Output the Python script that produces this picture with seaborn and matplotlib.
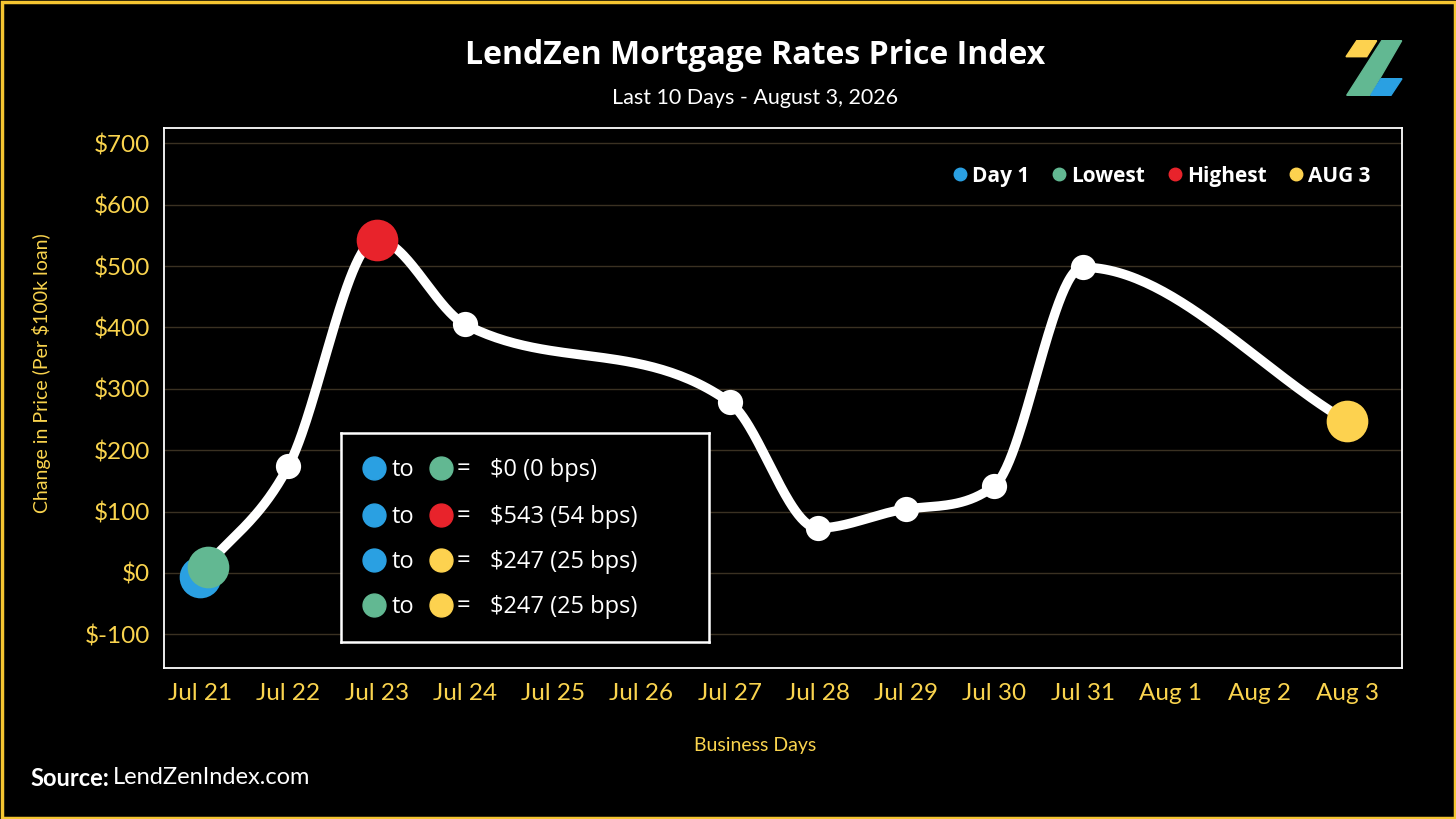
import numpy as np
import pandas as pd
import matplotlib
matplotlib.use("Agg")
import matplotlib.pyplot as plt
import seaborn as sns
from matplotlib.lines import Line2D
from matplotlib.patches import Polygon, Rectangle
from matplotlib.transforms import offset_copy

# ---------------- data ----------------
dates = ["Jul 21", "Jul 22", "Jul 23", "Jul 24", "Jul 25", "Jul 26", "Jul 27",
         "Jul 28", "Jul 29", "Jul 30", "Jul 31", "Aug 1", "Aug 2", "Aug 3"]
point_days = ["Jul 21", "Jul 22", "Jul 23", "Jul 24", "Jul 27", "Jul 28",
              "Jul 29", "Jul 30", "Jul 31", "Aug 3"]
point_values = [0, 174, 543, 405, 278, 73, 104, 142, 498, 247]

highlight_labels = ["Day 1", "Lowest", "Highest", "AUG 3"]
highlight_days = ["Jul 21", "Jul 21", "Jul 23", "Aug 3"]
highlight_values = [0, 0, 543, 247]
highlight_colors = ["#2aa0e2", "#62b892", "#e8232b", "#fdd24f"]

summary_from = ["Day 1", "Day 1", "Day 1", "Lowest"]
summary_to = ["Lowest", "Highest", "AUG 3", "AUG 3"]
summary_text = ["$0 (0 bps)", "$543 (54 bps)", "$247 (25 bps)", "$247 (25 bps)"]

y_ticks = [-100, 0, 100, 200, 300, 400, 500, 600, 700]
y_tick_labels = [f"${v}" for v in y_ticks]

title = "LendZen Mortgage Rates Price Index"
subtitle = "Last 10 Days - August 3, 2026"
y_label = "Change in Price (Per $100k loan)"
x_label = "Business Days"

# ---------------- style ----------------
W, H = 1456, 819
YEL = "#fad44e"
GRID = "#3a3122"
sns.set_theme(style="dark", rc={"axes.facecolor": "black", "figure.facecolor": "black"})
plt.rcParams["font.family"] = ["Lato", "DejaVu Sans"]

fig = plt.figure(figsize=(W / 100, H / 100), dpi=100, facecolor="black")

def px_rect(l, t, r, b):
    return [l / W, (H - b) / H, (r - l) / W, (b - t) / H]

ax = fig.add_axes(px_rect(164, 128, 1402, 668))
ax.set_facecolor("black")

# monotone cubic (Chart.js style)
xs = np.array([dates.index(d) for d in point_days], dtype=float)
ys = np.array(point_values, dtype=float)
h = np.diff(xs)
dk = np.diff(ys) / h
mk = np.zeros_like(ys)
mk[0], mk[-1] = dk[0], dk[-1]
for i in range(1, len(ys) - 1):
    mk[i] = 0 if dk[i - 1] * dk[i] <= 0 else (dk[i - 1] + dk[i]) / 2
for i in range(len(dk)):
    if dk[i] == 0:
        mk[i] = mk[i + 1] = 0
        continue
    a, b = mk[i] / dk[i], mk[i + 1] / dk[i]
    s2 = a * a + b * b
    if s2 > 9:
        tau = 3 / np.sqrt(s2)
        mk[i] = tau * a * dk[i]
        mk[i + 1] = tau * b * dk[i]
dense_x, dense_y = [], []
for i in range(len(h)):
    t = np.linspace(0, 1, 60)
    h00 = 2 * t**3 - 3 * t**2 + 1
    h10 = t**3 - 2 * t**2 + t
    h01 = -2 * t**3 + 3 * t**2
    h11 = t**3 - t**2
    dense_x.extend(xs[i] + t * h[i])
    dense_y.extend(h00 * ys[i] + h10 * h[i] * mk[i] + h01 * ys[i + 1] + h11 * h[i] * mk[i + 1])
curve = pd.DataFrame({"x": dense_x, "y": dense_y})

sns.lineplot(data=curve, x="x", y="y", color="white", lw=6.8, ax=ax,
             sort=False, solid_capstyle="round", zorder=2)
pts = pd.DataFrame({"x": xs, "y": ys})
sns.scatterplot(data=pts, x="x", y="y", color="white", s=330, linewidth=0, ax=ax, zorder=3)

offsets = [(0, -4), (8, 6), (0, 0), (0, 0)]
for lab, d, v, c, (dx, dy) in zip(highlight_labels, highlight_days, highlight_values,
                                 highlight_colors, offsets):
    tr = offset_copy(ax.transData, fig=fig, x=dx, y=dy, units="dots")
    sns.scatterplot(x=[dates.index(d)], y=[v], color=c, s=900, linewidth=0, ax=ax,
                    zorder=4, transform=tr)

ax.set_xlim(-0.41, 13.62)
ax.set_ylim(-155, 725)
ax.set_xticks(range(len(dates)))
ax.set_xticklabels(dates)
ax.set_yticks(y_ticks)
ax.set_yticklabels(y_tick_labels)
ax.tick_params(axis="both", length=0, colors=YEL, labelsize=17.5)
ax.tick_params(axis="y", pad=10)
ax.tick_params(axis="x", pad=11)
ax.grid(axis="y", color=GRID, lw=1)
ax.grid(axis="x", visible=False)
ax.set_xlabel("")
ax.set_ylabel("")
for sp in ax.spines.values():
    sp.set_color("white")
    sp.set_linewidth(1.3)
    sp.set_visible(True)

handles = [Line2D([], [], marker="o", ls="", color=c, markersize=9) for c in highlight_colors]
ax.legend(handles, highlight_labels, ncol=4, loc="center right",
          bbox_to_anchor=(0.99, 0.911), frameon=False,
          prop={"weight": "bold", "size": 15, "family": "Open Sans"},
          labelcolor="white", handletextpad=0.1, columnspacing=0.9, handlelength=1.0)

# summary box
bx = fig.add_axes(px_rect(341, 433, 709, 642))
bx.set_facecolor("black")
bx.set_xlim(341, 709)
bx.set_ylim(642, 433)
bx.set_xticks([])
bx.set_yticks([])
for sp in bx.spines.values():
    sp.set_color("white")
    sp.set_linewidth(1.8)
    sp.set_visible(True)
cmap = dict(zip(highlight_labels, highlight_colors))
row_y = [468, 515, 560, 605]
for yy, f, t, txt in zip(row_y, summary_from, summary_to, summary_text):
    bx.plot([374], [yy], marker="o", ms=16.5, color=cmap[f], ls="")
    bx.plot([441], [yy], marker="o", ms=16.5, color=cmap[t], ls="")
    base = yy + 8
    bx.text(392, base, "to", color="white", fontsize=17, va="baseline", ha="left", family="Open Sans")
    bx.text(463, base - 1, "=", color="white", fontsize=17, va="baseline", ha="center", family="Open Sans")
    bx.text(490, base, txt, color="white", fontsize=17, va="baseline", ha="left", family="Open Sans")

# texts
fig.text(755 / W, 1 - 56 / H, title, color="white", fontsize=23, fontweight="bold",
         ha="center", va="center", family="Open Sans")
fig.text(755 / W, 1 - 98 / H, subtitle, color="white", fontsize=15.5, ha="center", va="center")
fig.text(42 / W, 1 - 373 / H, y_label, color=YEL, fontsize=14, rotation=90,
         ha="center", va="center")
fig.text(755 / W, 1 - 745 / H, x_label, color=YEL, fontsize=14, ha="center", va="center")
src = fig.text(30 / W, 1 - 778 / H, "Source:", color="white", fontsize=17, fontweight="bold",
               ha="left", va="center")
fig.canvas.draw()
bb = src.get_window_extent()
fig.text(bb.x1 / W + 4 / W, 1 - 778 / H, "LendZenIndex.com", color="white", fontsize=17,
         ha="left", va="center")

# logo + border (decoration, in figure pixel coords)
deco = fig.add_axes([0, 0, 1, 1], zorder=-1)
deco.set_xlim(0, W)
deco.set_ylim(H, 0)
deco.axis("off")
deco.add_patch(Polygon([(1356.7, 40.7), (1376.7, 40.7), (1366.7, 56.7), (1346, 56.7)],
                       closed=True, color="#fdd24f"))
deco.add_patch(Polygon([(1381.7, 40.7), (1401.7, 40.7), (1370, 95.3), (1346.7, 95.3)],
                       closed=True, color="#62b892"))
deco.add_patch(Polygon([(1381, 78.7), (1402, 78.7), (1391, 95.3), (1370.7, 95.3)],
                       closed=True, color="#2aa0e2"))
deco.add_patch(Rectangle((1.5, 1.5), W - 3, H - 3, fill=False, ec="#f5c531", lw=2.5))

fig.savefig("out.png", dpi=100, facecolor="black")
